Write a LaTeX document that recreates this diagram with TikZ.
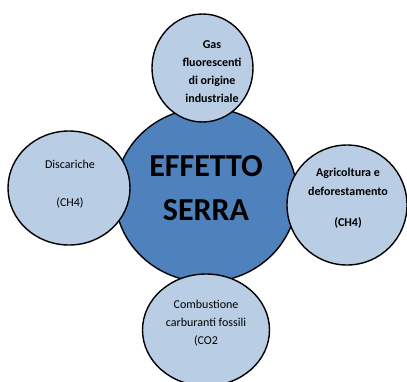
\documentclass[tikz,border=0pt]{standalone}
\usepackage{fontspec}
\setmainfont{Carlito}
\usetikzlibrary{shapes.geometric}
\definecolor{darkblue}{HTML}{4F81BD}
\definecolor{lightblue}{HTML}{B9CDE5}
\tikzset{
  bubble/.style={ellipse, draw=black, line width=1.4pt, fill=lightblue, inner sep=0pt},
  core/.style={ellipse, draw=black, line width=1.4pt, fill=darkblue, inner sep=0pt},
  txt/.style={align=center, inner sep=0pt, font=\fontsize{12}{18}\selectfont},
  btxt/.style={txt, font=\fontsize{12}{18}\selectfont\bfseries},
}
\begin{document}
\begin{tikzpicture}[x=1pt,y=-1pt]
\useasboundingbox (0,0) rectangle (407,381);
\node[core, minimum width=182pt, minimum height=174pt] (c) at (206,195) {};
\node[bubble, minimum width=101pt, minimum height=108pt] (top) at (202.5,68) {};
\node[bubble, minimum width=122pt, minimum height=114pt] (left) at (69,188) {};
\node[bubble, minimum width=120pt, minimum height=120pt] (right) at (347,205) {};
\node[bubble, minimum width=127pt, minimum height=112pt] (bottom) at (206,330) {};
\node[align=center, inner sep=0pt, font=\fontsize{32}{44}\selectfont\bfseries] (ct) at (206,188) {EFFETTO\\SERRA};
\node[btxt] (tt) at (212,72) {Gas\\fluorescenti\\di origine\\industriale};
\node[txt] (lt) at (70,184) {Discariche\\[20pt](CH4)};
\node[btxt, font=\fontsize{12}{19}\selectfont\bfseries] (rt) at (348,198) {Agricoltura e\\deforestamento\\[12pt](CH4)};
\node[txt] (bt) at (206,323) {Combustione\\carburanti fossili\\(CO2};
\end{tikzpicture}
\end{document}
